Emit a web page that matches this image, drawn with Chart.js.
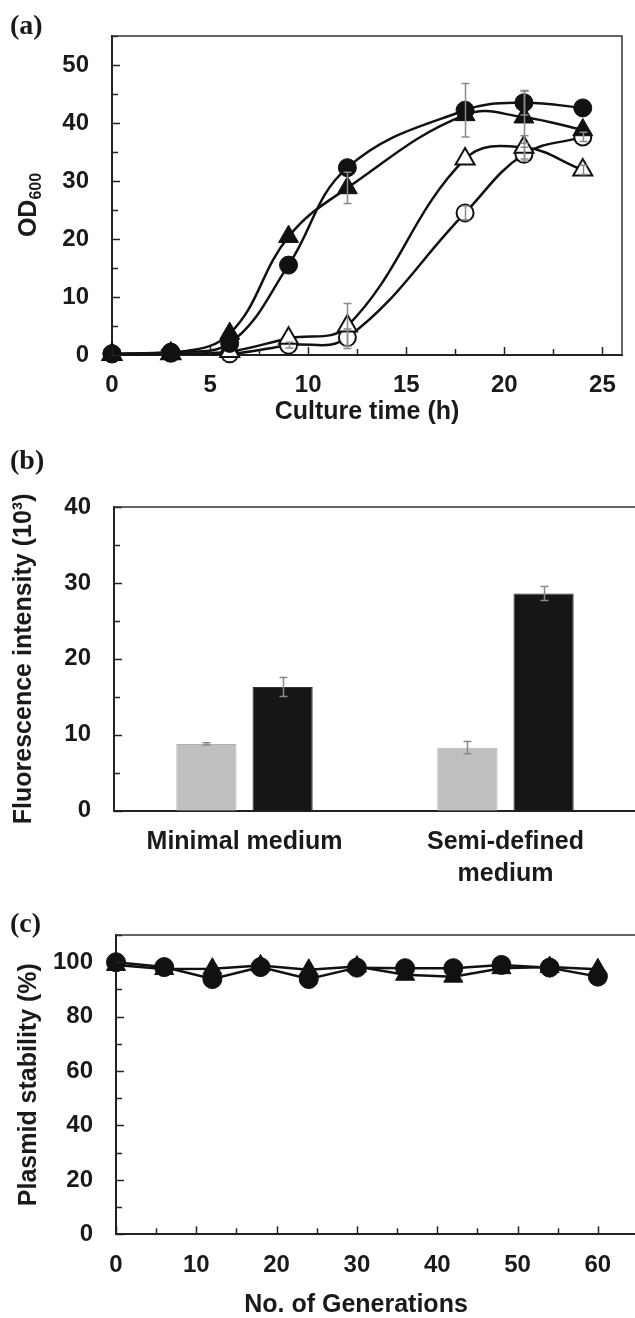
<!DOCTYPE html>
<html>
<head>
<meta charset="utf-8">
<script src="https://cdn.jsdelivr.net/npm/chart.js@4.4.1/dist/chart.umd.min.js"></script>
<style>
  html, body { margin: 0; padding: 0; background: #fff; width: 635px; height: 1318px; overflow: hidden; position: relative; }
  .panel { position: absolute; left: 0; }
  #chartA { top: 0; }
  #chartB { top: 440px; }
  #chartC { top: 890px; }
</style>
</head>
<body>
<canvas id="chartA" class="panel" width="635" height="430"></canvas>
<canvas id="chartB" class="panel" width="650" height="450"></canvas>
<canvas id="chartC" class="panel" width="650" height="435"></canvas>
<script>
// (a) growth curves, OD600 vs culture time
const cultureTimes = [0, 3, 6, 9, 12, 18, 21, 24];
const odFilledCircle = [0.2, 0.5, 2.0, 15.5, 32.3, 42.2, 43.5, 42.6];
const odFilledTriangle = [0.1, 0.3, 3.7, 20.4, 28.8, 41.4, 41.0, 38.8];
const odOpenTriangle = [0.1, 0.2, 0.6, 2.9, 5.0, 33.8, 35.8, 31.9];
const odOpenCircle = [0.2, 0.3, 0.2, 1.7, 3.0, 24.5, 34.6, 37.6];
const errFilledCircle = [0, 0, 0, 0, 0, 4.6, 2.1, 0];
const errFilledTriangle = [0, 0, 0, 0, 2.7, 0, 4.5, 0];
const errOpenTriangle = [0, 0, 0, 0, 3.9, 0, 2.0, 0.8];
const errOpenCircle = [0, 0, 0, 0.5, 1.5, 1.2, 1.2, 0.8];

// (b) fluorescence intensity
const media = ['Minimal medium', ['Semi-defined', 'medium']];
const fluorGray = [8.8, 8.3];
const fluorGrayErr = [0.15, 0.8];
const fluorBlack = [16.3, 28.6];
const fluorBlackErr = [1.25, 0.93];

// (c) plasmid stability
const generations = [0, 6, 12, 18, 24, 30, 36, 42, 48, 54, 60];
const stabCircle = [100, 98.2, 93.8, 98.2, 93.8, 98.0, 97.8, 97.8, 99.0, 98.0, 94.7];
const stabTriangle = [99.0, 97.5, 97.6, 98.8, 97.2, 98.4, 95.4, 94.7, 97.8, 98.2, 97.4];

const INK = '#1a1a1a';
const SANS = '"Liberation Sans", Arial, sans-serif';
Chart.defaults.font.family = SANS;
Chart.defaults.font.weight = 'bold';
Chart.defaults.color = INK;

const tickFont = { size: 24, weight: 'bold' };
const titleFont = { size: 25, weight: 'bold' };

// inward tick marks, top/right frame and panel letter
const frame = {
    id: 'frame',
    afterDraw(chart, args, opts) {
        const { ctx, chartArea: a } = chart;
        ctx.save();
        ctx.strokeStyle = '#222';
        ctx.lineWidth = 1.5;
        Object.values(chart.scales).forEach(s => {
            if (s.type === 'category') return;
            s.ticks.forEach(t => {
                const len = t.label !== '' ? 8 : 6;
                const p = Math.round(s.getPixelForValue(t.value)) + 0.5;
                ctx.beginPath();
                if (s.axis === 'y') { ctx.moveTo(a.left, p); ctx.lineTo(a.left + len, p); }
                else { ctx.moveTo(p, a.bottom); ctx.lineTo(p, a.bottom - len); }
                ctx.stroke();
            });
        });
        ctx.strokeStyle = '#333';
        ctx.beginPath();
        ctx.moveTo(a.left, a.top);
        ctx.lineTo(a.right, a.top);
        ctx.lineTo(a.right, a.bottom);
        ctx.stroke();

        ctx.fillStyle = INK;
        ctx.textAlign = 'left';
        ctx.textBaseline = 'middle';
        ctx.font = 'bold 28px "Liberation Serif", "Times New Roman", serif';
        ctx.fillText(opts.letter, 10, opts.letterY);

        if (opts.extra) opts.extra(ctx, a);
        ctx.restore();
    }
};

// grey error bars from the y scale
const errorBars = {
    id: 'errorBars',
    afterDatasetsDraw(chart) {
        const { ctx } = chart;
        const ys = chart.scales.y;
        ctx.save();
        ctx.strokeStyle = '#8a8a8a';
        ctx.lineWidth = 1.5;
        chart.data.datasets.forEach((ds, di) => {
            if (!ds.errors) return;
            const meta = chart.getDatasetMeta(di);
            meta.data.forEach((el, i) => {
                const e = ds.errors[i];
                if (!e) return;
                const raw = ds.data[i];
                const v = typeof raw === 'object' ? raw.y : raw;
                const x = Math.round(el.x) + 0.5;
                const y1 = ys.getPixelForValue(v + e);
                const y2 = ys.getPixelForValue(v - e);
                ctx.beginPath();
                ctx.moveTo(x, y1); ctx.lineTo(x, y2);
                ctx.moveTo(x - 4, y1); ctx.lineTo(x + 4, y1);
                ctx.moveTo(x - 4, y2); ctx.lineTo(x + 4, y2);
                ctx.stroke();
            });
        });
        ctx.restore();
    }
};

function fixBox(size) {
    return s => {
        if (s.isHorizontal()) { s.height = size; s.paddingLeft = 0; s.paddingRight = 0; }
        else { s.width = size; s.paddingTop = 0; s.paddingBottom = 0; }
    };
}

function pts(xs, ys) {
    return xs.map((x, i) => ({ x: x, y: ys[i] }));
}

function lineSet(xs, ys, errs, style, filled, radius) {
    return {
        data: pts(xs, ys),
        errors: errs,
        borderColor: '#111',
        borderWidth: 2.5,
        pointStyle: style,
        pointRadius: radius,
        pointBackgroundColor: filled ? '#111' : '#fff',
        pointBorderColor: '#111',
        pointBorderWidth: filled ? 1 : 2,
        clip: false
    };
}

// ---------- (a) ----------
new Chart(document.getElementById('chartA'), {
    type: 'line',
    data: {
        datasets: [
            lineSet(cultureTimes, odFilledCircle, errFilledCircle, 'circle', true, 9),
            lineSet(cultureTimes, odFilledTriangle, errFilledTriangle, 'triangle', true, 11.5),
            lineSet(cultureTimes, odOpenTriangle, errOpenTriangle, 'triangle', false, 11),
            lineSet(cultureTimes, odOpenCircle, errOpenCircle, 'circle', false, 8.5)
        ]
    },
    options: {
        responsive: false,
        animation: false,
        elements: { line: { tension: 0.4 } },
        layout: { padding: { top: 36, right: 8, bottom: 0, left: 0 } },
        scales: {
            x: {
                type: 'linear', min: 0, max: 26,
                afterFit: fixBox(75),
                grid: { display: false, drawTicks: false },
                border: { display: true, color: '#222', width: 2 },
                ticks: {
                    stepSize: 2.5, includeBounds: false, autoSkip: false, maxRotation: 0,
                    padding: 16, font: tickFont,
                    callback: v => (v % 5 === 0 ? v : '')
                },
                title: { display: true, text: 'Culture time (h)', font: titleFont, padding: { top: 0, bottom: 3 } }
            },
            y: {
                min: 0, max: 55,
                afterFit: fixBox(112),
                grid: { display: false, drawTicks: false },
                border: { display: true, color: '#222', width: 2 },
                ticks: {
                    stepSize: 5, autoSkip: false, padding: 23, font: tickFont,
                    callback: v => (v % 10 === 0 ? v : '')
                }
            }
        },
        plugins: {
            legend: { display: false },
            tooltip: { enabled: false },
            frame: {
                letter: '(a)', letterY: 27,
                extra: (ctx, a) => {
                    // OD600 with subscript, rotated
                    ctx.translate(27, 205);
                    ctx.rotate(-Math.PI / 2);
                    ctx.textBaseline = 'alphabetic';
                    ctx.font = 'bold 25px ' + SANS;
                    const w1 = ctx.measureText('OD').width;
                    ctx.font = 'bold 16px ' + SANS;
                    const w2 = ctx.measureText('600').width;
                    const x0 = -(w1 + w2) / 2;
                    ctx.font = 'bold 25px ' + SANS;
                    ctx.fillText('OD', x0, 9);
                    ctx.font = 'bold 16px ' + SANS;
                    ctx.fillText('600', x0 + w1, 14);
                }
            }
        }
    },
    plugins: [errorBars, frame]
});

// ---------- (b) ----------
new Chart(document.getElementById('chartB'), {
    type: 'bar',
    data: {
        labels: media,
        datasets: [
            { data: fluorGray, errors: fluorGrayErr, backgroundColor: '#bfbfbf', borderColor: '#b0b0b0', borderWidth: 1,
              categoryPercentage: 0.584, barPercentage: 0.79 },
            { data: fluorBlack, errors: fluorBlackErr, backgroundColor: '#161616', borderColor: '#333', borderWidth: 1,
              categoryPercentage: 0.584, barPercentage: 0.79 }
        ]
    },
    options: {
        responsive: false,
        animation: false,
        layout: { padding: { top: 67, right: 14, bottom: 0, left: 0 } },
        scales: {
            x: {
                afterFit: fixBox(79.3),
                grid: { display: false, drawTicks: false },
                border: { display: true, color: '#222', width: 2 },
                ticks: { autoSkip: false, maxRotation: 0, padding: 15, font: { size: 25, weight: 'bold', lineHeight: 1.28 } }
            },
            y: {
                min: 0, max: 40,
                afterFit: fixBox(114),
                grid: { display: false, drawTicks: false },
                border: { display: true, color: '#222', width: 2 },
                ticks: {
                    stepSize: 5, autoSkip: false, padding: 23, font: tickFont,
                    callback: v => (v % 10 === 0 ? v : '')
                },
                title: { display: true, text: 'Fluorescence intensity (10³)', font: titleFont, padding: { top: 9, bottom: 0 } }
            }
        },
        plugins: {
            legend: { display: false },
            tooltip: { enabled: false },
            frame: { letter: '(b)', letterY: 22 }
        }
    },
    plugins: [errorBars, frame]
});

// ---------- (c) ----------
new Chart(document.getElementById('chartC'), {
    type: 'line',
    data: {
        datasets: [
            Object.assign(lineSet(generations, stabCircle, null, 'circle', true, 9.5), { tension: 0 }),
            Object.assign(lineSet(generations, stabTriangle, null, 'triangle', true, 11), { tension: 0 })
        ]
    },
    options: {
        responsive: false,
        animation: false,
        layout: { padding: { top: 45, right: 10.4, bottom: 0, left: 0 } },
        scales: {
            x: {
                type: 'linear', min: 0, max: 65,
                afterFit: fixBox(90.7),
                grid: { display: false, drawTicks: false },
                border: { display: true, color: '#222', width: 2 },
                ticks: {
                    stepSize: 5, includeBounds: false, autoSkip: false, maxRotation: 0,
                    padding: 17, font: tickFont,
                    callback: v => (v % 10 === 0 ? v : '')
                }
            },
            y: {
                min: 0, max: 110,
                afterFit: fixBox(116),
                grid: { display: false, drawTicks: false },
                border: { display: true, color: '#222', width: 2 },
                ticks: {
                    stepSize: 10, autoSkip: false, padding: 23, font: tickFont,
                    callback: v => (v % 20 === 0 ? v : '')
                },
                title: { display: true, text: 'Plasmid stability (%)', font: titleFont, padding: { top: 14, bottom: 0 } }
            }
        },
        plugins: {
            legend: { display: false },
            tooltip: { enabled: false },
            frame: {
                letter: '(c)', letterY: 34.5,
                extra: (ctx, a) => {
                    ctx.font = 'bold 25px ' + SANS;
                    ctx.textAlign = 'center';
                    ctx.textBaseline = 'middle';
                    ctx.fillText('No. of Generations', 356, 415);
                }
            }
        }
    },
    plugins: [errorBars, frame]
});
</script>
</body>
</html>
